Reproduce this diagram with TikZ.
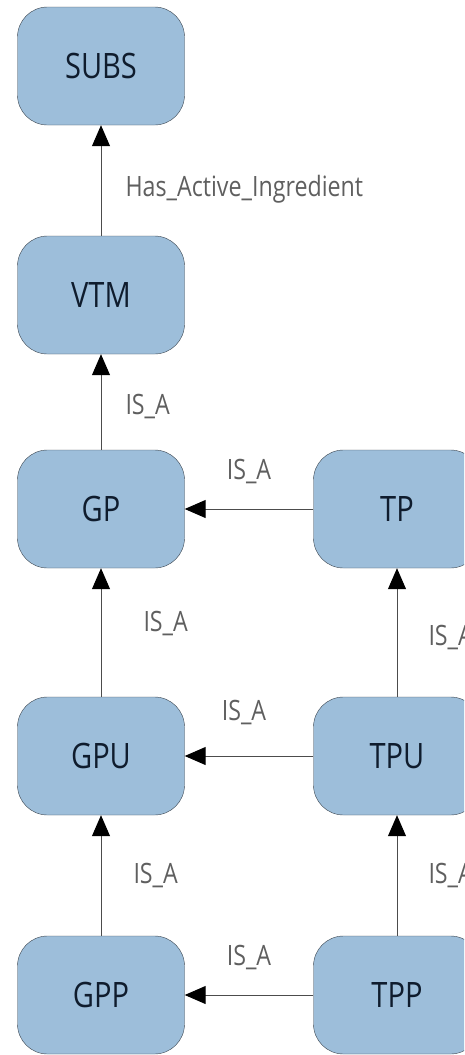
\documentclass[tikz,border=0pt]{standalone}
\usepackage{fontspec}
\usepackage{tikz}
\usepackage{xcolor}
\usetikzlibrary{arrows.meta,positioning}

\newfontfamily\boxfont[FakeStretch=0.83]{Open Sans}
\definecolor{boxblue}{RGB}{157,190,218}
\definecolor{boxline}{RGB}{60,70,80}
\definecolor{boxtext}{RGB}{15,28,45}
\definecolor{lblgray}{RGB}{95,95,95}

\tikzset{
  concept/.style={draw=boxline, fill=boxblue, rounded corners=30pt,
    minimum width=167pt, minimum height=118pt, inner sep=0pt,
    font=\boxfont\fontsize{35}{40}\selectfont, text=boxtext},
  rel/.style={draw=black!70, line width=1pt,
    -{Triangle[width=18pt,length=21pt,color=black]}},
  rellbl/.style={font=\boxfont\fontsize{28}{32}\selectfont, text=lblgray, inner sep=0pt}
}

\begin{document}
\begin{tikzpicture}[x=1pt,y=-1pt]
\useasboundingbox (0,0) rectangle (464,1055);
\clip (0,0) rectangle (464,1055);
% left column
\node[concept] (subs) at (101,66) {SUBS};
\node[concept] (vtm) at (101,295) {VTM};
\node[concept] (gp) at (101,509) {GP};
\node[concept] (gpu) at (101,756) {GPU};
\node[concept] (gpp) at (101,995) {GPP};
% right column, cut by the page edge
\node[concept] (tp) at (397,509) {TP};
\node[concept] (tpu) at (397,756) {TPU};
\node[concept] (tpp) at (397,995) {TPP};
% relations
\draw[rel] (vtm) -- node[rellbl, right=24pt, yshift=-9pt] {Has\_Active\_Ingredient} (subs);
\draw[rel] (gp) -- node[rellbl, right=24pt, yshift=-5pt] {IS\_A} (vtm);
\draw[rel] (tp) -- node[rellbl, yshift=37pt] {IS\_A} (gp);
\draw[rel] (gpu) -- node[rellbl, right=42pt, yshift=9pt] {IS\_A} (gp);
\draw[rel] (tpu) -- node[rellbl, right=31pt, yshift=-5pt] {IS\_A} (tp);
\draw[rel] (tpu) -- node[rellbl, xshift=-5pt, yshift=43pt] {IS\_A} (gpu);
\draw[rel] (gpp) -- node[rellbl, right=32pt] {IS\_A} (gpu);
\draw[rel] (tpp) -- node[rellbl, right=31pt] {IS\_A} (tpu);
\draw[rel] (tpp) -- node[rellbl, yshift=37pt] {IS\_A} (gpp);
\end{tikzpicture}
\end{document}
